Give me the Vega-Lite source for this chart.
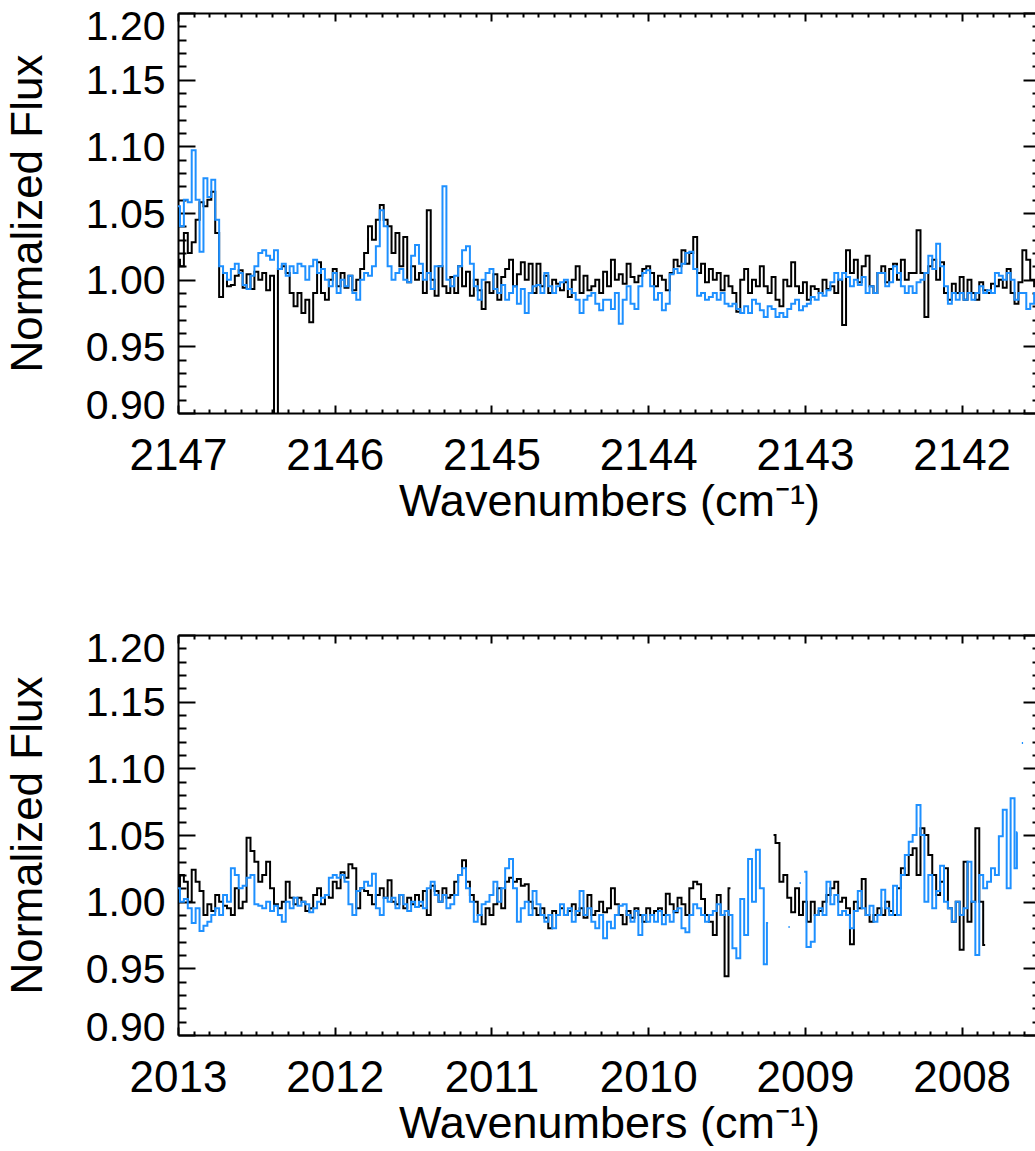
{
  "$schema": "https://vega.github.io/schema/vega-lite/v6.json",
  "background": "white",
  "padding": {"left": 6, "top": 6, "right": -6, "bottom": 0},
  "config": {
    "view": {"stroke": null},
    "font": "Liberation Sans",
    "axis": {
      "grid": false,
      "domainColor": "black",
      "domainWidth": 2,
      "tickColor": "black",
      "tickWidth": 2,
      "labelColor": "black",
      "labelFont": "Liberation Sans",
      "labelOverlap": false,
      "labelBound": false,
      "titleFont": "Liberation Sans",
      "titleFontWeight": "normal",
      "titleColor": "black"
    },
    "axisX": {"labelFontSize": 44, "titleFontSize": 45},
    "axisY": {"labelFontSize": 41, "titleFontSize": 44}
  },
  "datasets": {
    "top_black": [
      {"x":2147.0,"y":1.015},{"x":2146.975,"y":1.01},{"x":2146.95,"y":1.035},{"x":2146.925,"y":1.02},{"x":2146.9,"y":1.028},
      {"x":2146.875,"y":1.045},{"x":2146.85,"y":1.058},{"x":2146.825,"y":1.055},{"x":2146.8,"y":1.06},{"x":2146.775,"y":1.066},
      {"x":2146.75,"y":1.035},{"x":2146.725,"y":0.987},{"x":2146.7,"y":1.005},{"x":2146.675,"y":0.995},{"x":2146.65,"y":0.996},
      {"x":2146.625,"y":1.003},{"x":2146.6,"y":1.007},{"x":2146.575,"y":0.994},{"x":2146.55,"y":1.004},{"x":2146.525,"y":0.993},
      {"x":2146.5,"y":1.006},{"x":2146.475,"y":1.0},{"x":2146.45,"y":1.005},{"x":2146.425,"y":0.992},{"x":2146.4,"y":1.003},
      {"x":2146.375,"y":0.86},{"x":2146.35,"y":1.008},{"x":2146.325,"y":1.01},{"x":2146.3,"y":1.005},{"x":2146.275,"y":0.99},
      {"x":2146.25,"y":0.98},{"x":2146.225,"y":0.99},{"x":2146.2,"y":0.975},{"x":2146.175,"y":0.985},{"x":2146.15,"y":0.968},
      {"x":2146.125,"y":0.99},{"x":2146.1,"y":1.013},{"x":2146.075,"y":0.99},{"x":2146.05,"y":0.985},{"x":2146.025,"y":1.0},
      {"x":2146.0,"y":1.008},{"x":2145.975,"y":0.995},{"x":2145.95,"y":1.005},{"x":2145.925,"y":0.994},{"x":2145.9,"y":1.003},
      {"x":2145.875,"y":0.992},{"x":2145.85,"y":1.0},{"x":2145.825,"y":1.008},{"x":2145.8,"y":1.02},{"x":2145.775,"y":1.04},
      {"x":2145.75,"y":1.03},{"x":2145.725,"y":1.045},{"x":2145.7,"y":1.056},{"x":2145.675,"y":1.045},{"x":2145.65,"y":1.04},
      {"x":2145.625,"y":1.02},{"x":2145.6,"y":1.035},{"x":2145.575,"y":1.01},{"x":2145.55,"y":1.032},{"x":2145.525,"y":0.998},
      {"x":2145.5,"y":1.01},{"x":2145.475,"y":1.0},{"x":2145.45,"y":1.005},{"x":2145.425,"y":0.99},{"x":2145.4,"y":1.052},
      {"x":2145.375,"y":1.0},{"x":2145.35,"y":0.988},{"x":2145.325,"y":1.01},{"x":2145.3,"y":0.995},{"x":2145.275,"y":0.99},
      {"x":2145.25,"y":1.002},{"x":2145.225,"y":0.99},{"x":2145.2,"y":1.01},{"x":2145.175,"y":0.995},{"x":2145.15,"y":1.006},
      {"x":2145.125,"y":0.988},{"x":2145.1,"y":1.0},{"x":2145.075,"y":0.992},{"x":2145.05,"y":0.978},{"x":2145.025,"y":0.998},
      {"x":2145.0,"y":0.99},{"x":2144.975,"y":1.004},{"x":2144.95,"y":0.985},{"x":2144.925,"y":1.002},{"x":2144.9,"y":1.008},
      {"x":2144.875,"y":1.015},{"x":2144.85,"y":0.995},{"x":2144.825,"y":1.004},{"x":2144.8,"y":1.013},{"x":2144.775,"y":1.0},
      {"x":2144.75,"y":1.012},{"x":2144.725,"y":0.99},{"x":2144.7,"y":1.012},{"x":2144.675,"y":0.995},{"x":2144.65,"y":1.003},
      {"x":2144.625,"y":0.99},{"x":2144.6,"y":1.0},{"x":2144.575,"y":0.997},{"x":2144.55,"y":0.992},{"x":2144.525,"y":0.998},
      {"x":2144.5,"y":0.987},{"x":2144.475,"y":1.0},{"x":2144.45,"y":1.01},{"x":2144.425,"y":0.99},{"x":2144.4,"y":1.003},
      {"x":2144.375,"y":0.992},{"x":2144.35,"y":0.995},{"x":2144.325,"y":1.0},{"x":2144.3,"y":0.99},{"x":2144.275,"y":1.006},
      {"x":2144.25,"y":0.995},{"x":2144.225,"y":1.015},{"x":2144.2,"y":1.0},{"x":2144.175,"y":1.004},{"x":2144.15,"y":0.997},
      {"x":2144.125,"y":1.012},{"x":2144.1,"y":1.002},{"x":2144.075,"y":0.998},{"x":2144.05,"y":1.003},{"x":2144.025,"y":1.008},
      {"x":2144.0,"y":1.01},{"x":2143.975,"y":1.005},{"x":2143.95,"y":0.995},{"x":2143.925,"y":1.003},{"x":2143.9,"y":1.0},
      {"x":2143.875,"y":0.992},{"x":2143.85,"y":1.005},{"x":2143.825,"y":1.015},{"x":2143.8,"y":1.01},{"x":2143.775,"y":1.022},
      {"x":2143.75,"y":1.012},{"x":2143.725,"y":1.02},{"x":2143.7,"y":1.032},{"x":2143.675,"y":1.005},{"x":2143.65,"y":1.012},
      {"x":2143.625,"y":0.998},{"x":2143.6,"y":1.008},{"x":2143.575,"y":1.0},{"x":2143.55,"y":1.005},{"x":2143.525,"y":0.992},
      {"x":2143.5,"y":1.003},{"x":2143.475,"y":0.995},{"x":2143.45,"y":0.99},{"x":2143.425,"y":0.976},{"x":2143.4,"y":1.0},
      {"x":2143.375,"y":1.008},{"x":2143.35,"y":0.99},{"x":2143.325,"y":1.0},{"x":2143.3,"y":0.995},{"x":2143.275,"y":1.01},
      {"x":2143.25,"y":0.995},{"x":2143.225,"y":0.99},{"x":2143.2,"y":1.002},{"x":2143.175,"y":0.985},{"x":2143.15,"y":0.98},
      {"x":2143.125,"y":1.0},{"x":2143.1,"y":0.995},{"x":2143.075,"y":1.013},{"x":2143.05,"y":0.995},{"x":2143.025,"y":0.99},
      {"x":2143.0,"y":0.998},{"x":2142.975,"y":0.985},{"x":2142.95,"y":0.995},{"x":2142.925,"y":0.993},{"x":2142.9,"y":0.99},
      {"x":2142.875,"y":1.0},{"x":2142.85,"y":0.993},{"x":2142.825,"y":0.995},{"x":2142.8,"y":0.99},{"x":2142.775,"y":1.0},
      {"x":2142.75,"y":0.966},{"x":2142.725,"y":1.022},{"x":2142.7,"y":1.005},{"x":2142.675,"y":1.015},{"x":2142.65,"y":0.998},
      {"x":2142.625,"y":1.01},{"x":2142.6,"y":1.018},{"x":2142.575,"y":0.995},{"x":2142.55,"y":0.99},{"x":2142.525,"y":1.005},
      {"x":2142.5,"y":1.01},{"x":2142.475,"y":0.998},{"x":2142.45,"y":1.008},{"x":2142.425,"y":1.012},{"x":2142.4,"y":1.0},
      {"x":2142.375,"y":1.015},{"x":2142.35,"y":1.0},{"x":2142.325,"y":1.005},{"x":2142.3,"y":1.005},{"x":2142.275,"y":1.037},
      {"x":2142.25,"y":1.005},{"x":2142.225,"y":0.972},{"x":2142.2,"y":1.01},{"x":2142.175,"y":1.015},{"x":2142.15,"y":1.0},
      {"x":2142.125,"y":1.013},{"x":2142.1,"y":0.99},{"x":2142.075,"y":0.985},{"x":2142.05,"y":0.997},{"x":2142.025,"y":0.99},
      {"x":2142.0,"y":1.002},{"x":2141.975,"y":0.985},{"x":2141.95,"y":1.0},{"x":2141.925,"y":0.99},{"x":2141.9,"y":0.985},
      {"x":2141.875,"y":0.998},{"x":2141.85,"y":0.992},{"x":2141.825,"y":0.99},{"x":2141.8,"y":0.997},{"x":2141.775,"y":0.995},
      {"x":2141.75,"y":1.0},{"x":2141.725,"y":0.994},{"x":2141.7,"y":1.008},{"x":2141.675,"y":0.99},{"x":2141.65,"y":0.982},
      {"x":2141.625,"y":0.998},{"x":2141.6,"y":1.022},{"x":2141.575,"y":1.015},{"x":2141.55,"y":1.0},{"x":2141.525,"y":0.995},
      {"x":2141.5,"y":0.998}
    ],
    "top_blue": [
      {"x":2147.0,"y":1.055},{"x":2146.975,"y":1.04},{"x":2146.95,"y":1.06},{"x":2146.925,"y":1.058},{"x":2146.9,"y":1.097},
      {"x":2146.875,"y":1.06},{"x":2146.85,"y":1.021},{"x":2146.825,"y":1.076},{"x":2146.8,"y":1.062},{"x":2146.775,"y":1.075},
      {"x":2146.75,"y":1.045},{"x":2146.725,"y":1.01},{"x":2146.7,"y":1.005},{"x":2146.675,"y":1.0},{"x":2146.65,"y":1.008},
      {"x":2146.625,"y":1.012},{"x":2146.6,"y":1.005},{"x":2146.575,"y":0.996},{"x":2146.55,"y":0.993},{"x":2146.525,"y":1.003},
      {"x":2146.5,"y":1.01},{"x":2146.475,"y":1.02},{"x":2146.45,"y":1.022},{"x":2146.425,"y":1.018},{"x":2146.4,"y":1.015},
      {"x":2146.375,"y":1.022},{"x":2146.35,"y":1.008},{"x":2146.325,"y":1.012},{"x":2146.3,"y":1.003},{"x":2146.275,"y":1.01},
      {"x":2146.25,"y":1.005},{"x":2146.225,"y":1.012},{"x":2146.2,"y":1.01},{"x":2146.175,"y":1.0},{"x":2146.15,"y":1.01},
      {"x":2146.125,"y":1.015},{"x":2146.1,"y":1.005},{"x":2146.075,"y":1.008},{"x":2146.05,"y":1.0},{"x":2146.025,"y":0.995},
      {"x":2146.0,"y":1.005},{"x":2145.975,"y":0.99},{"x":2145.95,"y":1.0},{"x":2145.925,"y":0.995},{"x":2145.9,"y":1.003},
      {"x":2145.875,"y":0.99},{"x":2145.85,"y":0.985},{"x":2145.825,"y":1.0},{"x":2145.8,"y":1.005},{"x":2145.775,"y":1.003},
      {"x":2145.75,"y":1.01},{"x":2145.725,"y":1.025},{"x":2145.7,"y":1.052},{"x":2145.675,"y":1.04},{"x":2145.65,"y":1.01},
      {"x":2145.625,"y":1.0},{"x":2145.6,"y":1.005},{"x":2145.575,"y":1.008},{"x":2145.55,"y":1.0},{"x":2145.525,"y":0.998},
      {"x":2145.5,"y":1.018},{"x":2145.475,"y":1.026},{"x":2145.45,"y":1.012},{"x":2145.425,"y":1.0},{"x":2145.4,"y":1.005},
      {"x":2145.375,"y":0.993},{"x":2145.35,"y":1.01},{"x":2145.325,"y":1.01},{"x":2145.3,"y":1.07},{"x":2145.275,"y":1.0},
      {"x":2145.25,"y":0.995},{"x":2145.225,"y":1.003},{"x":2145.2,"y":1.01},{"x":2145.175,"y":1.022},{"x":2145.15,"y":1.025},
      {"x":2145.125,"y":1.012},{"x":2145.1,"y":0.995},{"x":2145.075,"y":0.985},{"x":2145.05,"y":1.0},{"x":2145.025,"y":1.005},
      {"x":2145.0,"y":1.008},{"x":2144.975,"y":0.993},{"x":2144.95,"y":0.99},{"x":2144.925,"y":0.996},{"x":2144.9,"y":0.985},
      {"x":2144.875,"y":0.99},{"x":2144.85,"y":0.995},{"x":2144.825,"y":0.982},{"x":2144.8,"y":0.993},{"x":2144.775,"y":0.975},
      {"x":2144.75,"y":0.99},{"x":2144.725,"y":0.995},{"x":2144.7,"y":0.996},{"x":2144.675,"y":0.99},{"x":2144.65,"y":1.005},
      {"x":2144.625,"y":0.995},{"x":2144.6,"y":0.99},{"x":2144.575,"y":0.995},{"x":2144.55,"y":0.998},{"x":2144.525,"y":1.0},
      {"x":2144.5,"y":0.993},{"x":2144.475,"y":0.99},{"x":2144.45,"y":0.985},{"x":2144.425,"y":0.975},{"x":2144.4,"y":0.985},
      {"x":2144.375,"y":0.988},{"x":2144.35,"y":0.99},{"x":2144.325,"y":0.982},{"x":2144.3,"y":0.977},{"x":2144.275,"y":0.985},
      {"x":2144.25,"y":0.985},{"x":2144.225,"y":0.978},{"x":2144.2,"y":0.99},{"x":2144.175,"y":0.967},{"x":2144.15,"y":0.985},
      {"x":2144.125,"y":0.995},{"x":2144.1,"y":0.982},{"x":2144.075,"y":0.978},{"x":2144.05,"y":0.995},{"x":2144.025,"y":1.005},
      {"x":2144.0,"y":1.007},{"x":2143.975,"y":0.995},{"x":2143.95,"y":0.985},{"x":2143.925,"y":0.99},{"x":2143.9,"y":0.977},
      {"x":2143.875,"y":0.982},{"x":2143.85,"y":1.004},{"x":2143.825,"y":1.008},{"x":2143.8,"y":1.005},{"x":2143.775,"y":1.012},
      {"x":2143.75,"y":1.02},{"x":2143.725,"y":1.021},{"x":2143.7,"y":1.008},{"x":2143.675,"y":0.988},{"x":2143.65,"y":0.99},
      {"x":2143.625,"y":0.985},{"x":2143.6,"y":0.987},{"x":2143.575,"y":0.99},{"x":2143.55,"y":0.985},{"x":2143.525,"y":0.99},
      {"x":2143.5,"y":0.982},{"x":2143.475,"y":0.98},{"x":2143.45,"y":0.982},{"x":2143.425,"y":0.978},{"x":2143.4,"y":0.975},
      {"x":2143.375,"y":0.98},{"x":2143.35,"y":0.975},{"x":2143.325,"y":0.985},{"x":2143.3,"y":0.982},{"x":2143.275,"y":0.977},
      {"x":2143.25,"y":0.972},{"x":2143.225,"y":0.98},{"x":2143.2,"y":0.978},{"x":2143.175,"y":0.972},{"x":2143.15,"y":0.975},
      {"x":2143.125,"y":0.972},{"x":2143.1,"y":0.978},{"x":2143.075,"y":0.982},{"x":2143.05,"y":0.985},{"x":2143.025,"y":0.977},
      {"x":2143.0,"y":0.98},{"x":2142.975,"y":0.982},{"x":2142.95,"y":0.987},{"x":2142.925,"y":0.985},{"x":2142.9,"y":0.99},
      {"x":2142.875,"y":0.988},{"x":2142.85,"y":0.992},{"x":2142.825,"y":0.998},{"x":2142.8,"y":1.005},{"x":2142.775,"y":1.0},
      {"x":2142.75,"y":1.005},{"x":2142.725,"y":1.002},{"x":2142.7,"y":0.995},{"x":2142.675,"y":1.0},{"x":2142.65,"y":0.996},
      {"x":2142.625,"y":1.002},{"x":2142.6,"y":0.99},{"x":2142.575,"y":0.995},{"x":2142.55,"y":0.99},{"x":2142.525,"y":1.005},
      {"x":2142.5,"y":1.005},{"x":2142.475,"y":0.995},{"x":2142.45,"y":0.998},{"x":2142.425,"y":1.01},{"x":2142.4,"y":1.005},
      {"x":2142.375,"y":0.995},{"x":2142.35,"y":0.99},{"x":2142.325,"y":0.995},{"x":2142.3,"y":0.99},{"x":2142.275,"y":0.998},
      {"x":2142.25,"y":1.0},{"x":2142.225,"y":1.005},{"x":2142.2,"y":1.018},{"x":2142.175,"y":1.008},{"x":2142.15,"y":1.027},
      {"x":2142.125,"y":1.01},{"x":2142.1,"y":0.995},{"x":2142.075,"y":0.982},{"x":2142.05,"y":0.99},{"x":2142.025,"y":0.985},
      {"x":2142.0,"y":0.99},{"x":2141.975,"y":0.985},{"x":2141.95,"y":0.99},{"x":2141.925,"y":0.985},{"x":2141.9,"y":0.99},
      {"x":2141.875,"y":0.995},{"x":2141.85,"y":0.99},{"x":2141.825,"y":0.992},{"x":2141.8,"y":0.99},{"x":2141.775,"y":1.005},
      {"x":2141.75,"y":1.003},{"x":2141.725,"y":1.0},{"x":2141.7,"y":1.005},{"x":2141.675,"y":1.0},{"x":2141.65,"y":0.985},
      {"x":2141.625,"y":0.99},{"x":2141.6,"y":0.99},{"x":2141.575,"y":0.978},{"x":2141.55,"y":0.982},{"x":2141.525,"y":0.99},
      {"x":2141.5,"y":0.992}
    ],
    "bottom_black": [
      {"x":2013.0,"y":1.01,"g":1},{"x":2012.975,"y":1.02,"g":1},{"x":2012.95,"y":1.015,"g":1},{"x":2012.925,"y":1.0,"g":1},{"x":2012.9,"y":1.024,"g":1},
      {"x":2012.875,"y":1.015,"g":1},{"x":2012.85,"y":1.008,"g":1},{"x":2012.825,"y":0.99,"g":1},{"x":2012.8,"y":0.998,"g":1},{"x":2012.775,"y":0.993,"g":1},
      {"x":2012.75,"y":1.005,"g":1},{"x":2012.725,"y":1.0,"g":1},{"x":2012.7,"y":0.997,"g":1},{"x":2012.675,"y":0.995,"g":1},{"x":2012.65,"y":0.99,"g":1},
      {"x":2012.625,"y":1.01,"g":1},{"x":2012.6,"y":0.995,"g":1},{"x":2012.575,"y":1.0,"g":1},{"x":2012.55,"y":1.048,"g":1},{"x":2012.525,"y":1.038,"g":1},
      {"x":2012.5,"y":1.03,"g":1},{"x":2012.475,"y":1.015,"g":1},{"x":2012.45,"y":1.02,"g":1},{"x":2012.425,"y":1.03,"g":1},{"x":2012.4,"y":1.01,"g":1},
      {"x":2012.375,"y":0.998,"g":1},{"x":2012.35,"y":0.995,"g":1},{"x":2012.325,"y":1.0,"g":1},{"x":2012.3,"y":1.015,"g":1},{"x":2012.275,"y":1.003,"g":1},
      {"x":2012.25,"y":0.998,"g":1},{"x":2012.225,"y":1.003,"g":1},{"x":2012.2,"y":1.0,"g":1},{"x":2012.175,"y":0.993,"g":1},{"x":2012.15,"y":0.995,"g":1},
      {"x":2012.125,"y":1.005,"g":1},{"x":2012.1,"y":1.01,"g":1},{"x":2012.075,"y":0.998,"g":1},{"x":2012.05,"y":1.005,"g":1},{"x":2012.025,"y":1.003,"g":1},
      {"x":2012.0,"y":1.015,"g":1},{"x":2011.975,"y":1.01,"g":1},{"x":2011.95,"y":1.022,"g":1},{"x":2011.925,"y":1.018,"g":1},{"x":2011.9,"y":1.028,"g":1},
      {"x":2011.875,"y":1.025,"g":1},{"x":2011.85,"y":0.995,"g":1},{"x":2011.825,"y":1.01,"g":1},{"x":2011.8,"y":1.008,"g":1},{"x":2011.775,"y":1.005,"g":1},
      {"x":2011.75,"y":0.998,"g":1},{"x":2011.725,"y":1.005,"g":1},{"x":2011.7,"y":1.01,"g":1},{"x":2011.675,"y":1.003,"g":1},{"x":2011.65,"y":1.016,"g":1},
      {"x":2011.625,"y":1.0,"g":1},{"x":2011.6,"y":0.998,"g":1},{"x":2011.575,"y":1.005,"g":1},{"x":2011.55,"y":0.995,"g":1},{"x":2011.525,"y":1.003,"g":1},
      {"x":2011.5,"y":0.998,"g":1},{"x":2011.475,"y":1.005,"g":1},{"x":2011.45,"y":0.997,"g":1},{"x":2011.425,"y":1.008,"g":1},{"x":2011.4,"y":0.99,"g":1},
      {"x":2011.375,"y":1.012,"g":1},{"x":2011.35,"y":1.008,"g":1},{"x":2011.325,"y":1.0,"g":1},{"x":2011.3,"y":1.01,"g":1},{"x":2011.275,"y":1.003,"g":1},
      {"x":2011.25,"y":1.005,"g":1},{"x":2011.225,"y":1.015,"g":1},{"x":2011.2,"y":1.02,"g":1},{"x":2011.175,"y":1.031,"g":1},{"x":2011.15,"y":1.015,"g":1},
      {"x":2011.125,"y":1.005,"g":1},{"x":2011.1,"y":1.0,"g":1},{"x":2011.075,"y":0.99,"g":1},{"x":2011.05,"y":0.983,"g":1},{"x":2011.025,"y":0.995,"g":1},
      {"x":2011.0,"y":0.99,"g":1},{"x":2010.975,"y":0.998,"g":1},{"x":2010.95,"y":1.01,"g":1},{"x":2010.925,"y":0.995,"g":1},{"x":2010.9,"y":1.015,"g":1},
      {"x":2010.875,"y":1.018,"g":1},{"x":2010.85,"y":1.015,"g":1},{"x":2010.825,"y":1.017,"g":1},{"x":2010.8,"y":1.012,"g":1},{"x":2010.775,"y":1.013,"g":1},
      {"x":2010.75,"y":1.0,"g":1},{"x":2010.725,"y":0.995,"g":1},{"x":2010.7,"y":0.99,"g":1},{"x":2010.675,"y":0.995,"g":1},{"x":2010.65,"y":0.988,"g":1},
      {"x":2010.625,"y":0.98,"g":1},{"x":2010.6,"y":0.993,"g":1},{"x":2010.575,"y":0.99,"g":1},{"x":2010.55,"y":0.995,"g":1},{"x":2010.525,"y":0.99,"g":1},
      {"x":2010.5,"y":0.993,"g":1},{"x":2010.475,"y":0.998,"g":1},{"x":2010.45,"y":0.99,"g":1},{"x":2010.425,"y":0.995,"g":1},{"x":2010.4,"y":0.988,"g":1},
      {"x":2010.375,"y":1.005,"g":1},{"x":2010.35,"y":0.99,"g":1},{"x":2010.325,"y":0.993,"g":1},{"x":2010.3,"y":1.0,"g":1},{"x":2010.275,"y":0.992,"g":1},
      {"x":2010.25,"y":0.995,"g":1},{"x":2010.225,"y":1.01,"g":1},{"x":2010.2,"y":0.998,"g":1},{"x":2010.175,"y":0.99,"g":1},{"x":2010.15,"y":0.983,"g":1},
      {"x":2010.125,"y":0.993,"g":1},{"x":2010.1,"y":0.988,"g":1},{"x":2010.075,"y":0.995,"g":1},{"x":2010.05,"y":0.99,"g":1},{"x":2010.025,"y":0.985,"g":1},
      {"x":2010.0,"y":0.995,"g":1},{"x":2009.975,"y":0.99,"g":1},{"x":2009.95,"y":0.993,"g":1},{"x":2009.925,"y":0.995,"g":1},{"x":2009.9,"y":0.99,"g":1},
      {"x":2009.875,"y":1.006,"g":1},{"x":2009.85,"y":0.998,"g":1},{"x":2009.825,"y":0.992,"g":1},{"x":2009.8,"y":1.003,"g":1},{"x":2009.775,"y":0.998,"g":1},
      {"x":2009.75,"y":0.99,"g":1},{"x":2009.725,"y":1.01,"g":1},{"x":2009.7,"y":1.015,"g":1},{"x":2009.675,"y":1.013,"g":1},{"x":2009.65,"y":1.002,"g":1},
      {"x":2009.625,"y":0.99,"g":1},{"x":2009.6,"y":0.985,"g":1},{"x":2009.575,"y":0.975,"g":1},{"x":2009.55,"y":1.005,"g":1},{"x":2009.525,"y":0.99,"g":1},
      {"x":2009.5,"y":0.944,"g":1},{"x":2009.475,"y":1.01,"g":1},
      {"x":2009.2,"y":1.05,"g":2},{"x":2009.175,"y":1.044,"g":2},{"x":2009.15,"y":1.015,"g":2},{"x":2009.125,"y":1.02,"g":2},{"x":2009.1,"y":1.003,"g":2},
      {"x":2009.075,"y":0.992,"g":2},{"x":2009.05,"y":1.01,"g":2},{"x":2009.025,"y":0.99,"g":2},{"x":2009.0,"y":1.0,"g":2},{"x":2008.975,"y":0.985,"g":2},
      {"x":2008.95,"y":1.0,"g":2},{"x":2008.925,"y":0.99,"g":2},{"x":2008.9,"y":0.993,"g":2},{"x":2008.875,"y":1.0,"g":2},{"x":2008.85,"y":1.005,"g":2},
      {"x":2008.825,"y":1.01,"g":2},{"x":2008.8,"y":1.015,"g":2},{"x":2008.775,"y":1.0,"g":2},{"x":2008.75,"y":1.003,"g":2},{"x":2008.725,"y":0.995,"g":2},
      {"x":2008.7,"y":0.968,"g":2},{"x":2008.675,"y":1.0,"g":2},{"x":2008.65,"y":0.995,"g":2},{"x":2008.625,"y":1.017,"g":2},{"x":2008.6,"y":0.99,"g":2},
      {"x":2008.575,"y":0.985,"g":2},{"x":2008.55,"y":0.99,"g":2},{"x":2008.525,"y":0.995,"g":2},{"x":2008.5,"y":0.99,"g":2},{"x":2008.475,"y":1.0,"g":2},
      {"x":2008.45,"y":0.993,"g":2},{"x":2008.425,"y":0.99,"g":2},{"x":2008.4,"y":1.01,"g":2},{"x":2008.375,"y":1.025,"g":2},{"x":2008.35,"y":1.02,"g":2},
      {"x":2008.325,"y":1.035,"g":2},{"x":2008.3,"y":1.04,"g":2},{"x":2008.275,"y":1.02,"g":2},{"x":2008.25,"y":1.055,"g":2},{"x":2008.225,"y":1.05,"g":2},
      {"x":2008.2,"y":1.035,"g":2},{"x":2008.175,"y":1.02,"g":2},{"x":2008.15,"y":1.005,"g":2},{"x":2008.125,"y":1.015,"g":2},{"x":2008.1,"y":1.025,"g":2},
      {"x":2008.075,"y":0.995,"g":2},{"x":2008.05,"y":0.985,"g":2},{"x":2008.025,"y":1.0,"g":2},{"x":2008.0,"y":0.964,"g":2},{"x":2007.975,"y":1.03,"g":2},
      {"x":2007.95,"y":0.985,"g":2},{"x":2007.925,"y":1.0,"g":2},{"x":2007.9,"y":1.055,"g":2},{"x":2007.875,"y":1.0,"g":2},{"x":2007.85,"y":0.9675,"g":2}
    ],
    "bottom_blue": [
      {"x":2013.0,"y":1.01,"g":1},{"x":2012.975,"y":1.0,"g":1},{"x":2012.95,"y":1.002,"g":1},{"x":2012.925,"y":0.995,"g":1},{"x":2012.9,"y":0.984,"g":1},
      {"x":2012.875,"y":0.995,"g":1},{"x":2012.85,"y":0.978,"g":1},{"x":2012.825,"y":0.982,"g":1},{"x":2012.8,"y":0.985,"g":1},{"x":2012.775,"y":0.99,"g":1},
      {"x":2012.75,"y":0.995,"g":1},{"x":2012.725,"y":0.99,"g":1},{"x":2012.7,"y":1.005,"g":1},{"x":2012.675,"y":1.0,"g":1},{"x":2012.65,"y":1.025,"g":1},
      {"x":2012.625,"y":1.02,"g":1},{"x":2012.6,"y":1.01,"g":1},{"x":2012.575,"y":1.012,"g":1},{"x":2012.55,"y":1.018,"g":1},{"x":2012.525,"y":1.02,"g":1},
      {"x":2012.5,"y":0.998,"g":1},{"x":2012.475,"y":0.997,"g":1},{"x":2012.45,"y":0.995,"g":1},{"x":2012.425,"y":1.0,"g":1},{"x":2012.4,"y":0.993,"g":1},
      {"x":2012.375,"y":0.997,"g":1},{"x":2012.35,"y":0.99,"g":1},{"x":2012.325,"y":0.985,"g":1},{"x":2012.3,"y":1.0,"g":1},{"x":2012.275,"y":0.995,"g":1},
      {"x":2012.25,"y":1.003,"g":1},{"x":2012.225,"y":0.997,"g":1},{"x":2012.2,"y":1.0,"g":1},{"x":2012.175,"y":0.998,"g":1},{"x":2012.15,"y":0.992,"g":1},
      {"x":2012.125,"y":0.995,"g":1},{"x":2012.1,"y":1.0,"g":1},{"x":2012.075,"y":1.003,"g":1},{"x":2012.05,"y":1.005,"g":1},{"x":2012.025,"y":1.018,"g":1},
      {"x":2012.0,"y":1.02,"g":1},{"x":2011.975,"y":1.018,"g":1},{"x":2011.95,"y":1.02,"g":1},{"x":2011.925,"y":1.015,"g":1},{"x":2011.9,"y":0.998,"g":1},
      {"x":2011.875,"y":0.99,"g":1},{"x":2011.85,"y":1.008,"g":1},{"x":2011.825,"y":1.01,"g":1},{"x":2011.8,"y":1.015,"g":1},{"x":2011.775,"y":1.012,"g":1},
      {"x":2011.75,"y":1.021,"g":1},{"x":2011.725,"y":0.995,"g":1},{"x":2011.7,"y":0.99,"g":1},{"x":2011.675,"y":1.003,"g":1},{"x":2011.65,"y":1.0,"g":1},
      {"x":2011.625,"y":1.003,"g":1},{"x":2011.6,"y":0.995,"g":1},{"x":2011.575,"y":1.005,"g":1},{"x":2011.55,"y":0.998,"g":1},{"x":2011.525,"y":0.993,"g":1},
      {"x":2011.5,"y":1.0,"g":1},{"x":2011.475,"y":0.996,"g":1},{"x":2011.45,"y":1.0,"g":1},{"x":2011.425,"y":0.995,"g":1},{"x":2011.4,"y":1.01,"g":1},
      {"x":2011.375,"y":1.015,"g":1},{"x":2011.35,"y":1.005,"g":1},{"x":2011.325,"y":1.0,"g":1},{"x":2011.3,"y":1.005,"g":1},{"x":2011.275,"y":0.995,"g":1},
      {"x":2011.25,"y":0.998,"g":1},{"x":2011.225,"y":1.005,"g":1},{"x":2011.2,"y":1.02,"g":1},{"x":2011.175,"y":1.025,"g":1},{"x":2011.15,"y":1.01,"g":1},
      {"x":2011.125,"y":1.0,"g":1},{"x":2011.1,"y":0.985,"g":1},{"x":2011.075,"y":0.99,"g":1},{"x":2011.05,"y":0.998,"g":1},{"x":2011.025,"y":1.0,"g":1},
      {"x":2011.0,"y":1.005,"g":1},{"x":2010.975,"y":1.015,"g":1},{"x":2010.95,"y":1.0,"g":1},{"x":2010.925,"y":1.01,"g":1},{"x":2010.9,"y":1.025,"g":1},
      {"x":2010.875,"y":1.032,"g":1},{"x":2010.85,"y":1.01,"g":1},{"x":2010.825,"y":0.985,"g":1},{"x":2010.8,"y":0.995,"g":1},{"x":2010.775,"y":1.0,"g":1},
      {"x":2010.75,"y":0.99,"g":1},{"x":2010.725,"y":1.008,"g":1},{"x":2010.7,"y":0.998,"g":1},{"x":2010.675,"y":0.99,"g":1},{"x":2010.65,"y":0.985,"g":1},
      {"x":2010.625,"y":0.99,"g":1},{"x":2010.6,"y":0.98,"g":1},{"x":2010.575,"y":0.99,"g":1},{"x":2010.55,"y":0.998,"g":1},{"x":2010.525,"y":0.99,"g":1},
      {"x":2010.5,"y":0.995,"g":1},{"x":2010.475,"y":0.985,"g":1},{"x":2010.45,"y":0.993,"g":1},{"x":2010.425,"y":1.008,"g":1},{"x":2010.4,"y":0.99,"g":1},
      {"x":2010.375,"y":0.995,"g":1},{"x":2010.35,"y":0.985,"g":1},{"x":2010.325,"y":0.98,"g":1},{"x":2010.3,"y":0.99,"g":1},{"x":2010.275,"y":0.9725,"g":1},
      {"x":2010.25,"y":0.985,"g":1},{"x":2010.225,"y":0.98,"g":1},{"x":2010.2,"y":0.99,"g":1},{"x":2010.175,"y":0.997,"g":1},{"x":2010.15,"y":0.998,"g":1},
      {"x":2010.125,"y":0.99,"g":1},{"x":2010.1,"y":0.985,"g":1},{"x":2010.075,"y":0.993,"g":1},{"x":2010.05,"y":0.975,"g":1},{"x":2010.025,"y":0.99,"g":1},
      {"x":2010.0,"y":0.985,"g":1},{"x":2009.975,"y":0.99,"g":1},{"x":2009.95,"y":0.985,"g":1},{"x":2009.925,"y":0.993,"g":1},{"x":2009.9,"y":0.983,"g":1},
      {"x":2009.875,"y":0.99,"g":1},{"x":2009.85,"y":0.985,"g":1},{"x":2009.825,"y":0.993,"g":1},{"x":2009.8,"y":0.995,"g":1},{"x":2009.775,"y":0.98,"g":1},
      {"x":2009.75,"y":0.977,"g":1},{"x":2009.725,"y":0.99,"g":1},{"x":2009.7,"y":0.998,"g":1},{"x":2009.675,"y":0.995,"g":1},{"x":2009.65,"y":0.99,"g":1},
      {"x":2009.625,"y":0.985,"g":1},{"x":2009.6,"y":0.99,"g":1},{"x":2009.575,"y":0.993,"g":1},{"x":2009.55,"y":0.998,"g":1},{"x":2009.525,"y":0.99,"g":1},
      {"x":2009.5,"y":0.993,"g":1},{"x":2009.475,"y":0.99,"g":1},{"x":2009.45,"y":0.965,"g":1},{"x":2009.425,"y":0.9575,"g":1},{"x":2009.4,"y":1.002,"g":1},
      {"x":2009.375,"y":0.975,"g":1},{"x":2009.35,"y":1.032,"g":1},{"x":2009.325,"y":1.0,"g":1},{"x":2009.3,"y":1.039,"g":1},{"x":2009.275,"y":1.01,"g":1},
      {"x":2009.25,"y":0.953,"g":1},{"x":2009.235,"y":0.984,"g":1},
      {"x":2009.105,"y":0.981,"g":2},{"x":2009.097,"y":0.981,"g":2},
      {"x":2009.034,"y":1.014,"g":3},{"x":2009.026,"y":1.014,"g":3},
      {"x":2009.005,"y":1.0225,"g":4},{"x":2008.975,"y":0.966,"g":4},{"x":2008.95,"y":0.97,"g":4},{"x":2008.925,"y":0.99,"g":4},{"x":2008.9,"y":0.995,"g":4},
      {"x":2008.875,"y":0.99,"g":4},{"x":2008.85,"y":1.015,"g":4},{"x":2008.825,"y":0.998,"g":4},{"x":2008.8,"y":1.005,"g":4},{"x":2008.775,"y":0.99,"g":4},
      {"x":2008.75,"y":0.993,"g":4},{"x":2008.725,"y":0.99,"g":4},{"x":2008.7,"y":0.98,"g":4},{"x":2008.675,"y":0.993,"g":4},{"x":2008.65,"y":1.008,"g":4},
      {"x":2008.625,"y":0.995,"g":4},{"x":2008.6,"y":0.99,"g":4},{"x":2008.575,"y":0.997,"g":4},{"x":2008.55,"y":0.985,"g":4},{"x":2008.525,"y":0.99,"g":4},
      {"x":2008.5,"y":1.009,"g":4},{"x":2008.475,"y":0.995,"g":4},{"x":2008.45,"y":0.99,"g":4},{"x":2008.425,"y":1.012,"g":4},{"x":2008.4,"y":0.99,"g":4},
      {"x":2008.375,"y":1.02,"g":4},{"x":2008.35,"y":1.035,"g":4},{"x":2008.325,"y":1.045,"g":4},{"x":2008.3,"y":1.05,"g":4},{"x":2008.275,"y":1.0725,"g":4},
      {"x":2008.25,"y":1.05,"g":4},{"x":2008.225,"y":1.0,"g":4},{"x":2008.2,"y":1.02,"g":4},{"x":2008.175,"y":0.995,"g":4},{"x":2008.15,"y":1.008,"g":4},
      {"x":2008.125,"y":1.027,"g":4},{"x":2008.1,"y":1.0,"g":4},{"x":2008.075,"y":0.995,"g":4},{"x":2008.05,"y":0.985,"g":4},{"x":2008.025,"y":1.0,"g":4},
      {"x":2008.0,"y":0.99,"g":4},{"x":2007.975,"y":0.995,"g":4},{"x":2007.95,"y":1.03,"g":4},{"x":2007.925,"y":1.0,"g":4},{"x":2007.9,"y":0.96,"g":4},
      {"x":2007.875,"y":1.02,"g":4},{"x":2007.85,"y":1.01,"g":4},{"x":2007.825,"y":1.015,"g":4},{"x":2007.8,"y":1.025,"g":4},{"x":2007.775,"y":1.02,"g":4},
      {"x":2007.75,"y":1.049,"g":4},{"x":2007.725,"y":1.069,"g":4},{"x":2007.7,"y":1.01,"g":4},{"x":2007.675,"y":1.0775,"g":4},{"x":2007.65,"y":1.025,"g":4},
      {"x":2007.645,"y":1.052,"g":4},
      {"x":2007.616,"y":1.119,"g":5},{"x":2007.608,"y":1.119,"g":5}
    ]
  },
  "spacing": 104,
  "vconcat": [
    {
      "width": 862,
      "height": 400,
      "resolve": {"axis": {"x": "independent", "y": "independent"}},
      "layer": [
        {
          "data": {"name": "top_black"},
          "mark": {"type": "line", "interpolate": "step", "color": "black", "strokeWidth": 2, "clip": true},
          "encoding": {
            "x": {
              "field": "x", "type": "quantitative",
              "scale": {"domain": [2147, 2141.5], "nice": false, "zero": false},
              "axis": {
                "orient": "bottom",
                "values": [2147,2146.9,2146.8,2146.7,2146.6,2146.5,2146.4,2146.3,2146.2,2146.1,2146,2145.9,2145.8,2145.7,2145.6,2145.5,2145.4,2145.3,2145.2,2145.1,2145,2144.9,2144.8,2144.7,2144.6,2144.5,2144.4,2144.3,2144.2,2144.1,2144,2143.9,2143.8,2143.7,2143.6,2143.5,2143.4,2143.3,2143.2,2143.1,2143,2142.9,2142.8,2142.7,2142.6,2142.5,2142.4,2142.3,2142.2,2142.1,2142,2141.9,2141.8,2141.7,2141.6,2141.5],
                "tickSize": {"condition": {"test": "abs(datum.value - round(datum.value)) < 0.001", "value": -8}, "value": -4},
                "labelExpr": "abs(datum.value - round(datum.value)) < 0.001 ? format(datum.value, 'd') : ''",
                "labelFlush": false,
                "labelPadding": 29,
                "title": "Wavenumbers (cm⁻¹)",
                "titlePadding": -3
              }
            },
            "y": {
              "field": "y", "type": "quantitative",
              "scale": {"domain": [0.9, 1.2], "nice": false, "zero": false},
              "axis": {
                "orient": "left",
                "values": [0.9,0.91,0.92,0.93,0.94,0.95,0.96,0.97,0.98,0.99,1.0,1.01,1.02,1.03,1.04,1.05,1.06,1.07,1.08,1.09,1.1,1.11,1.12,1.13,1.14,1.15,1.16,1.17,1.18,1.19,1.2],
                "tickSize": {"condition": {"test": "abs(datum.value * 20 - round(datum.value * 20)) < 0.001", "value": -17}, "value": -8},
                "labelExpr": "abs(datum.value * 20 - round(datum.value * 20)) < 0.001 ? format(datum.value, '.2f') : ''",
                "labelFlush": false,
                "labelBaseline": "middle",
                "labelOffset": {"condition": [{"test": "datum.value > 1.19", "value": 14}, {"test": "datum.value < 0.91", "value": -7}], "value": 2},
                "labelPadding": 30,
                "title": "Normalized Flux",
                "titlePadding": 35
              }
            }
          }
        },
        {
          "data": {"name": "top_blue"},
          "mark": {"type": "line", "interpolate": "step", "color": "#1e90ff", "strokeWidth": 2, "clip": true},
          "encoding": {
            "x": {
              "field": "x", "type": "quantitative",
              "scale": {"domain": [2147, 2141.5], "nice": false, "zero": false},
              "axis": {
                "orient": "top",
                "values": [2147,2146.9,2146.8,2146.7,2146.6,2146.5,2146.4,2146.3,2146.2,2146.1,2146,2145.9,2145.8,2145.7,2145.6,2145.5,2145.4,2145.3,2145.2,2145.1,2145,2144.9,2144.8,2144.7,2144.6,2144.5,2144.4,2144.3,2144.2,2144.1,2144,2143.9,2143.8,2143.7,2143.6,2143.5,2143.4,2143.3,2143.2,2143.1,2143,2142.9,2142.8,2142.7,2142.6,2142.5,2142.4,2142.3,2142.2,2142.1,2142,2141.9,2141.8,2141.7,2141.6,2141.5],
                "tickSize": {"condition": {"test": "abs(datum.value - round(datum.value)) < 0.001", "value": -8}, "value": -4},
                "labels": false,
                "title": null
              }
            },
            "y": {
              "field": "y", "type": "quantitative",
              "scale": {"domain": [0.9, 1.2], "nice": false, "zero": false},
              "axis": {
                "orient": "right",
                "values": [0.9,0.91,0.92,0.93,0.94,0.95,0.96,0.97,0.98,0.99,1.0,1.01,1.02,1.03,1.04,1.05,1.06,1.07,1.08,1.09,1.1,1.11,1.12,1.13,1.14,1.15,1.16,1.17,1.18,1.19,1.2],
                "tickSize": {"condition": {"test": "abs(datum.value * 20 - round(datum.value * 20)) < 0.001", "value": -17}, "value": -8},
                "labels": false,
                "title": null
              }
            }
          }
        }
      ]
    },
    {
      "width": 862,
      "height": 400,
      "resolve": {"axis": {"x": "independent", "y": "independent"}},
      "layer": [
        {
          "data": {"name": "bottom_black"},
          "mark": {"type": "line", "interpolate": "step", "color": "black", "strokeWidth": 2, "clip": true},
          "encoding": {
            "detail": {"field": "g", "type": "nominal"},
            "x": {
              "field": "x", "type": "quantitative",
              "scale": {"domain": [2013, 2007.5], "nice": false, "zero": false},
              "axis": {
                "orient": "bottom",
                "values": [2013,2012.9,2012.8,2012.7,2012.6,2012.5,2012.4,2012.3,2012.2,2012.1,2012,2011.9,2011.8,2011.7,2011.6,2011.5,2011.4,2011.3,2011.2,2011.1,2011,2010.9,2010.8,2010.7,2010.6,2010.5,2010.4,2010.3,2010.2,2010.1,2010,2009.9,2009.8,2009.7,2009.6,2009.5,2009.4,2009.3,2009.2,2009.1,2009,2008.9,2008.8,2008.7,2008.6,2008.5,2008.4,2008.3,2008.2,2008.1,2008,2007.9,2007.8,2007.7,2007.6,2007.5],
                "tickSize": {"condition": {"test": "abs(datum.value - round(datum.value)) < 0.001", "value": -8}, "value": -4},
                "labelExpr": "abs(datum.value - round(datum.value)) < 0.001 ? format(datum.value, 'd') : ''",
                "labelFlush": false,
                "labelPadding": 29,
                "title": "Wavenumbers (cm⁻¹)",
                "titlePadding": -3
              }
            },
            "y": {
              "field": "y", "type": "quantitative",
              "scale": {"domain": [0.9, 1.2], "nice": false, "zero": false},
              "axis": {
                "orient": "left",
                "values": [0.9,0.91,0.92,0.93,0.94,0.95,0.96,0.97,0.98,0.99,1.0,1.01,1.02,1.03,1.04,1.05,1.06,1.07,1.08,1.09,1.1,1.11,1.12,1.13,1.14,1.15,1.16,1.17,1.18,1.19,1.2],
                "tickSize": {"condition": {"test": "abs(datum.value * 20 - round(datum.value * 20)) < 0.001", "value": -17}, "value": -8},
                "labelExpr": "abs(datum.value * 20 - round(datum.value * 20)) < 0.001 ? format(datum.value, '.2f') : ''",
                "labelFlush": false,
                "labelBaseline": "middle",
                "labelOffset": {"condition": [{"test": "datum.value > 1.19", "value": 14}, {"test": "datum.value < 0.91", "value": -7}], "value": 2},
                "labelPadding": 30,
                "title": "Normalized Flux",
                "titlePadding": 35
              }
            }
          }
        },
        {
          "data": {"name": "bottom_blue"},
          "mark": {"type": "line", "interpolate": "step", "color": "#1e90ff", "strokeWidth": 2, "clip": true},
          "encoding": {
            "detail": {"field": "g", "type": "nominal"},
            "x": {
              "field": "x", "type": "quantitative",
              "scale": {"domain": [2013, 2007.5], "nice": false, "zero": false},
              "axis": {
                "orient": "top",
                "values": [2013,2012.9,2012.8,2012.7,2012.6,2012.5,2012.4,2012.3,2012.2,2012.1,2012,2011.9,2011.8,2011.7,2011.6,2011.5,2011.4,2011.3,2011.2,2011.1,2011,2010.9,2010.8,2010.7,2010.6,2010.5,2010.4,2010.3,2010.2,2010.1,2010,2009.9,2009.8,2009.7,2009.6,2009.5,2009.4,2009.3,2009.2,2009.1,2009,2008.9,2008.8,2008.7,2008.6,2008.5,2008.4,2008.3,2008.2,2008.1,2008,2007.9,2007.8,2007.7,2007.6,2007.5],
                "tickSize": {"condition": {"test": "abs(datum.value - round(datum.value)) < 0.001", "value": -8}, "value": -4},
                "labels": false,
                "title": null
              }
            },
            "y": {
              "field": "y", "type": "quantitative",
              "scale": {"domain": [0.9, 1.2], "nice": false, "zero": false},
              "axis": {
                "orient": "right",
                "values": [0.9,0.91,0.92,0.93,0.94,0.95,0.96,0.97,0.98,0.99,1.0,1.01,1.02,1.03,1.04,1.05,1.06,1.07,1.08,1.09,1.1,1.11,1.12,1.13,1.14,1.15,1.16,1.17,1.18,1.19,1.2],
                "tickSize": {"condition": {"test": "abs(datum.value * 20 - round(datum.value * 20)) < 0.001", "value": -17}, "value": -8},
                "labels": false,
                "title": null
              }
            }
          }
        }
      ]
    }
  ]
}
